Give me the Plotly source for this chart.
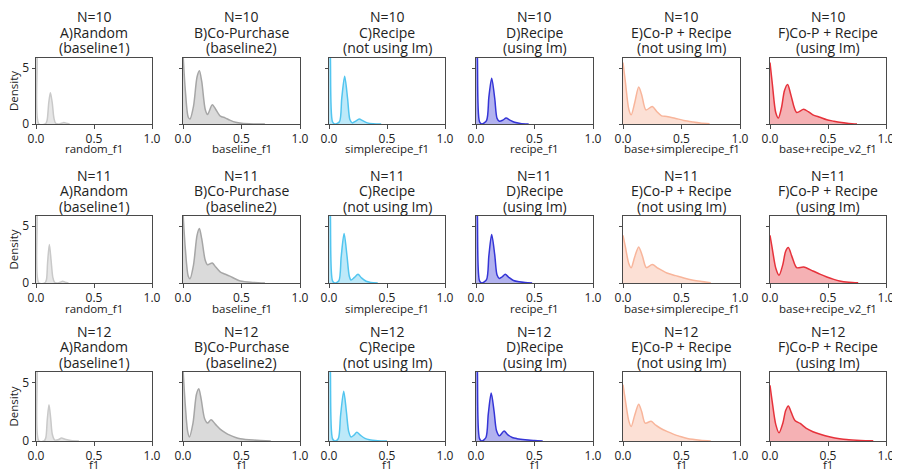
import plotly.graph_objects as go

# ---------------- data ----------------
N_VALUES = [10, 11, 12]
TITLES_L2 = ["A)Random", "B)Co-Purchase", "C)Recipe", "D)Recipe", "E)Co-P + Recipe", "F)Co-P + Recipe"]
TITLES_L3 = ["(baseline1)", "(baseline2)", "(not using Im)", "(using Im)", "(not using Im)", "(using Im)"]
XLABELS_TOP = ["random_f1", "baseline_f1", "simplerecipe_f1", "recipe_f1", "base+simplerecipe_f1", "base+recipe_v2_f1"]
XLABEL_BOTTOM = "f1"
X_TICKS = [0, 0.5, 1.0]
X_TICKTEXT = ["0.0", "0.5", "1.0"]
Y_TICKS = [0, 5]

# N=10
X_10_A = [0, 0.01, 0.025, 0.08, 0.095, 0.11, 0.124, 0.14, 0.155, 0.17, 0.2, 0.225, 0.24, 0.26, 0.29]
Y_10_A = [14, 6, 0, 0, 0.3, 1.9, 2.8, 1.9, 0.5, 0.05, 0, 0.08, 0.14, 0.08, 0]
X_10_B = [0, 0.02, 0.045, 0.06, 0.09, 0.12, 0.14, 0.16, 0.19, 0.21, 0.25, 0.28, 0.32, 0.36, 0.4, 0.45, 0.5, 0.6, 0.7]
Y_10_B = [6.3, 3.0, 0.6, 0.45, 1.6, 4.2, 4.75, 3.8, 1.3, 0.85, 1.73, 1.3, 0.7, 0.55, 0.35, 0.15, 0.06, 0.01, 0]
X_10_C = [0, 0.012, 0.03, 0.05, 0.09, 0.11, 0.135, 0.16, 0.18, 0.2, 0.23, 0.26, 0.29, 0.33, 0.38, 0.45]
Y_10_C = [14, 6, 0.2, 0, 0.2, 2.3, 4.26, 2.3, 0.4, 0.1, 0.25, 0.44, 0.3, 0.1, 0.02, 0]
X_10_D = [0, 0.012, 0.03, 0.05, 0.09, 0.11, 0.134, 0.16, 0.18, 0.2, 0.23, 0.257, 0.29, 0.33, 0.38, 0.45]
Y_10_D = [14, 6, 0.2, 0, 0.3, 2.4, 4.1, 2.3, 0.5, 0.25, 0.35, 0.53, 0.35, 0.15, 0.05, 0]
X_10_E = [0, 0.02, 0.05, 0.07, 0.1, 0.134, 0.16, 0.196, 0.25, 0.29, 0.33, 0.375, 0.45, 0.52, 0.6, 0.66, 0.74]
Y_10_E = [5.5, 3.8, 1.3, 0.82, 1.9, 3.3, 2.6, 1.26, 1.56, 1.1, 0.73, 0.68, 0.5, 0.32, 0.18, 0.09, 0.02]
X_10_F = [0, 0.02, 0.05, 0.072, 0.1, 0.125, 0.152, 0.18, 0.23, 0.29, 0.33, 0.37, 0.43, 0.49, 0.55, 0.6, 0.68, 0.75]
Y_10_F = [5.5, 3.6, 1.0, 0.53, 1.5, 3.0, 3.53, 2.6, 1.03, 1.32, 1.1, 0.82, 0.6, 0.38, 0.25, 0.15, 0.05, 0.0]

# N=11
X_11_A = [0, 0.01, 0.025, 0.075, 0.09, 0.1, 0.115, 0.13, 0.145, 0.16, 0.19, 0.215, 0.23, 0.25, 0.28]
Y_11_A = [14, 6, 0, 0, 0.3, 1.8, 3.38, 2.0, 0.5, 0.05, 0, 0.1, 0.16, 0.08, 0]
X_11_B = [0, 0.02, 0.045, 0.06, 0.09, 0.12, 0.14, 0.16, 0.19, 0.21, 0.25, 0.28, 0.32, 0.35, 0.4, 0.45, 0.49, 0.6, 0.7]
Y_11_B = [6.2, 3.0, 0.6, 0.38, 1.6, 4.2, 4.8, 3.9, 2.0, 1.6, 1.76, 1.4, 0.95, 0.82, 0.6, 0.35, 0.18, 0.05, 0]
X_11_C = [0, 0.012, 0.03, 0.05, 0.085, 0.105, 0.13, 0.155, 0.175, 0.19, 0.22, 0.25, 0.28, 0.32, 0.36, 0.42]
Y_11_C = [14, 6, 0.2, 0, 0.2, 2.3, 4.36, 2.4, 0.6, 0.26, 0.5, 0.76, 0.45, 0.15, 0.05, 0]
X_11_D = [0, 0.012, 0.03, 0.05, 0.09, 0.11, 0.134, 0.16, 0.18, 0.2, 0.225, 0.25, 0.28, 0.32, 0.37, 0.42, 0.48]
Y_11_D = [14, 6, 0.2, 0, 0.3, 2.4, 4.27, 2.5, 0.7, 0.4, 0.55, 0.76, 0.5, 0.22, 0.1, 0.04, 0]
X_11_E = [0, 0.02, 0.05, 0.07, 0.1, 0.134, 0.165, 0.2, 0.25, 0.3, 0.375, 0.45, 0.52, 0.6, 0.66, 0.75]
Y_11_E = [4.2, 3.2, 1.7, 1.35, 2.3, 3.18, 2.4, 1.35, 1.62, 1.3, 0.88, 0.65, 0.44, 0.25, 0.15, 0.03]
X_11_F = [0, 0.02, 0.05, 0.078, 0.11, 0.135, 0.158, 0.19, 0.23, 0.29, 0.37, 0.43, 0.49, 0.55, 0.6, 0.68, 0.76]
Y_11_F = [4.2, 3.0, 1.3, 0.68, 1.6, 2.8, 3.12, 2.3, 1.35, 1.41, 1.06, 0.78, 0.53, 0.32, 0.18, 0.07, 0.02]

# N=12
X_12_A = [0, 0.01, 0.025, 0.07, 0.085, 0.097, 0.112, 0.127, 0.14, 0.16, 0.19, 0.22, 0.25, 0.3, 0.37]
Y_12_A = [14, 6, 0, 0, 0.3, 1.8, 3.1, 1.9, 0.6, 0.1, 0.1, 0.25, 0.15, 0.04, 0]
X_12_B = [0, 0.02, 0.04, 0.055, 0.085, 0.115, 0.135, 0.155, 0.185, 0.21, 0.24, 0.28, 0.32, 0.36, 0.4, 0.45, 0.49, 0.6, 0.75]
Y_12_B = [6.2, 3.0, 0.8, 0.35, 1.5, 4.0, 4.47, 3.6, 1.9, 1.53, 1.82, 1.4, 1.0, 0.72, 0.5, 0.3, 0.2, 0.08, 0]
X_12_C = [0, 0.012, 0.03, 0.05, 0.08, 0.1, 0.127, 0.15, 0.17, 0.19, 0.215, 0.24, 0.27, 0.31, 0.35, 0.42, 0.5]
Y_12_C = [14, 6, 0.2, 0, 0.2, 2.2, 4.26, 2.5, 0.8, 0.35, 0.5, 0.74, 0.5, 0.22, 0.1, 0.03, 0]
X_12_D = [0, 0.012, 0.03, 0.05, 0.085, 0.105, 0.13, 0.155, 0.175, 0.2, 0.24, 0.27, 0.31, 0.35, 0.42, 0.5, 0.57]
Y_12_D = [14, 6, 0.2, 0, 0.3, 2.3, 4.1, 2.5, 0.9, 0.44, 0.85, 0.55, 0.3, 0.2, 0.1, 0.04, 0]
X_12_E = [0, 0.02, 0.05, 0.07, 0.1, 0.134, 0.16, 0.19, 0.24, 0.28, 0.32, 0.38, 0.43, 0.48, 0.55, 0.66, 0.75]
Y_12_E = [4.82, 3.5, 1.7, 1.24, 2.2, 3.15, 2.5, 1.53, 1.68, 1.35, 1.09, 0.8, 0.59, 0.42, 0.21, 0.06, 0]
X_12_F = [0, 0.02, 0.05, 0.078, 0.11, 0.135, 0.158, 0.185, 0.215, 0.26, 0.31, 0.37, 0.44, 0.52, 0.6, 0.66, 0.78, 0.89]
Y_12_F = [4.76, 3.3, 1.4, 0.7, 1.5, 2.6, 3.0, 2.4, 1.75, 1.5, 1.1, 0.79, 0.55, 0.35, 0.2, 0.12, 0.05, 0.02]

CURVES = [
    [(X_10_A, Y_10_A), (X_10_B, Y_10_B), (X_10_C, Y_10_C), (X_10_D, Y_10_D), (X_10_E, Y_10_E), (X_10_F, Y_10_F)],
    [(X_11_A, Y_11_A), (X_11_B, Y_11_B), (X_11_C, Y_11_C), (X_11_D, Y_11_D), (X_11_E, Y_11_E), (X_11_F, Y_11_F)],
    [(X_12_A, Y_12_A), (X_12_B, Y_12_B), (X_12_C, Y_12_C), (X_12_D, Y_12_D), (X_12_E, Y_12_E), (X_12_F, Y_12_F)],
]

# ---------------- styling ----------------
OFF = 8                      # page body margin in the browser
FW, FH = 892, 463            # figure size so that figure + margin fills 900x471
LINE_COLORS = ["#c9c9c9", "#a6a6a6", "#52c5ef", "#3535d6", "#f8b59b", "#e6323b"]
FILL_COLORS = ["rgba(200,200,200,0.45)", "rgba(166,166,166,0.42)", "rgba(82,197,239,0.38)",
               "rgba(53,53,214,0.38)", "rgba(248,181,155,0.42)", "rgba(230,50,59,0.38)"]
COL_PX = [(36, 152), (183, 300), (329, 445), (476, 593), (623, 740), (770, 886)]
ROW_PX = [(58, 124), (216, 283), (372, 441)]
XLABEL_SHIFT = [-25, -25, -23]
FONT = "Open Sans, Noto Sans, sans-serif"
AXIS_COLOR = "#4a4a4a"
Y_MAX = 5.9


def fx(px):
    return (px - OFF) / FW


def fy(py):
    return 1 - (py - OFF) / FH


fig = go.Figure()
annotations = []

for r in range(3):
    top, bot = ROW_PX[r]
    for c in range(6):
        idx = r * 6 + c + 1
        xa = "x" if idx == 1 else f"x{idx}"
        ya = "y" if idx == 1 else f"y{idx}"
        xs, ys = CURVES[r][c]
        fig.add_trace(go.Scatter(
            x=xs, y=ys, mode="lines", xaxis=xa, yaxis=ya,
            line=dict(color=LINE_COLORS[c], width=1.5, shape="spline", smoothing=0.8),
            fill="tozeroy", fillcolor=FILL_COLORS[c], showlegend=False, hoverinfo="skip",
        ))
        left, right = COL_PX[c]
        kx = "xaxis" if idx == 1 else f"xaxis{idx}"
        ky = "yaxis" if idx == 1 else f"yaxis{idx}"
        fig.layout[kx] = dict(
            domain=[fx(left), fx(right)], anchor=ya, range=[0, 1], tickvals=X_TICKS, ticktext=X_TICKTEXT,
            ticks="outside", ticklen=3.5, tickcolor=AXIS_COLOR, showline=True, linecolor=AXIS_COLOR,
            linewidth=1, mirror=True, showgrid=False, zeroline=False, automargin=False,
            tickfont=dict(family=FONT, size=12, color="#222"),
        )
        fig.layout[ky] = dict(
            domain=[fy(bot), fy(top)], anchor=xa, range=[0, Y_MAX], tickvals=Y_TICKS,
            ticks="outside", ticklen=3.5, tickcolor=AXIS_COLOR, showline=True, linecolor=AXIS_COLOR,
            linewidth=1, mirror=True, showgrid=False, zeroline=False, automargin=False,
            showticklabels=(c == 0), tickfont=dict(family=FONT, size=12, color="#222"),
        )
        cx = fx((left + right) / 2)
        # titles
        for txt, shift in [(f"N={N_VALUES[r]}", 41), (TITLES_L2[c], 25.5), (TITLES_L3[c], 10)]:
            annotations.append(dict(
                x=cx, y=fy(top), xref="paper", yref="paper", text=txt, showarrow=False,
                xanchor="center", yanchor="middle", yshift=shift,
                font=dict(family=FONT, size=14, color="#222"),
            ))
        # x labels
        xl = XLABELS_TOP[c] if r < 2 else XLABEL_BOTTOM
        annotations.append(dict(
            x=cx, y=fy(bot), xref="paper", yref="paper", text=xl, showarrow=False,
            xanchor="center", yanchor="middle", yshift=XLABEL_SHIFT[r],
            font=dict(family=FONT, size=11.5, color="#222"),
        ))
    # Density label
    annotations.append(dict(
        x=fx(13), y=fy((top + bot) / 2), xref="paper", yref="paper", text="Density",
        showarrow=False, textangle=-90, xanchor="center", yanchor="middle",
        font=dict(family=FONT, size=11.5, color="#222"),
    ))

fig.update_layout(
    width=FW, height=FH, margin=dict(l=0, r=0, t=0, b=0),
    paper_bgcolor="white", plot_bgcolor="white", annotations=annotations,
)

fig.write_html("out.html")
